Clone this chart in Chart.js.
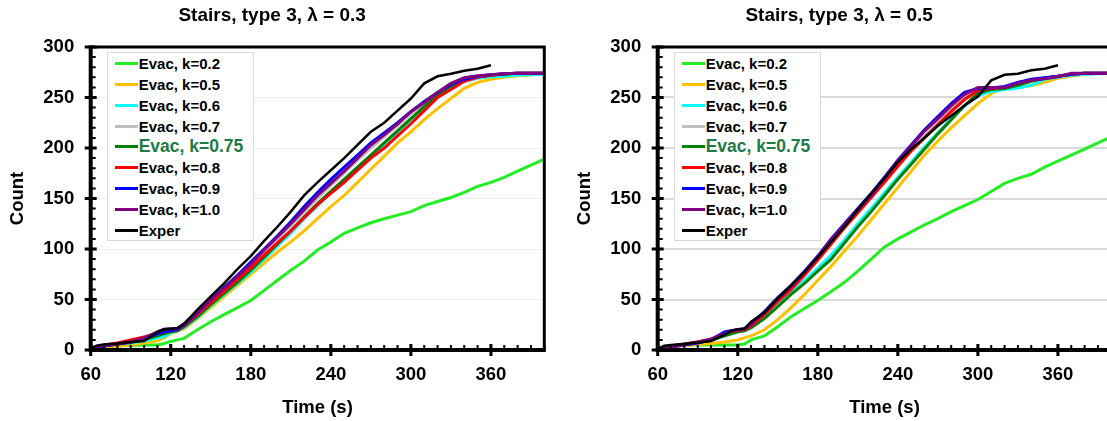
<!DOCTYPE html>
<html>
<head>
<meta charset="utf-8">
<title>Stairs, type 3</title>
<script src="https://cdn.jsdelivr.net/npm/chart.js@4.4.1/dist/chart.umd.min.js"></script>
<style>
    body { margin: 0; background: #fff; overflow: hidden; width: 1107px; height: 421px; position: relative; }
    .panel { position: absolute; top: 0; width: 555px; height: 421px; }
    .legend {
        position: absolute; width: 145px; border: 1px solid #d9d9d9; background: #fff;
        font-family: "Liberation Sans", Arial, sans-serif; font-weight: bold;
    }
    .legend .row { height: 20.8px; display: flex; align-items: center; font-size: 15px; color: #000; white-space: nowrap; }
    .legend .row.big { font-size: 17.5px; color: #1e7b45; }
    .legend .swatch { width: 23px; height: 3px; margin-left: 7px; margin-right: 1px; flex: none; }
</style>
</head>
<body>
<div class="panel" style="left:0"><canvas id="chart1" width="555" height="421"></canvas><div class="legend" id="legend1"></div></div>
<div class="panel" style="left:567px"><canvas id="chart2" width="555" height="421"></canvas><div class="legend" id="legend2"></div></div>

<script>
// time axis (s) shared by all curves
const time = [60, 65, 70, 80, 90, 100, 110, 115, 120, 125, 130, 140, 150, 160, 170, 180, 190, 200, 210, 220,
    230, 240, 250, 260, 270, 280, 290, 300, 310, 320, 330, 340, 350, 360, 370, 380, 390, 400];

const xTicks = [60, 120, 180, 240, 300, 360];
const yTicks = [0, 50, 100, 150, 200, 250, 300];

const seriesLabels = ["Evac, k=0.2", "Evac, k=0.5", "Evac, k=0.6", "Evac, k=0.7", "Evac, k=0.75",
    "Evac, k=0.8", "Evac, k=0.9", "Evac, k=1.0", "Exper"];
const seriesColors = ["#22ee22", "#ffc000", "#00ffff", "#bfbfbf", "#008000", "#ff0000", "#0000ff", "#800080", "#000000"];

// lambda = 0.3
const a_k02 = [0, 2, 3, 4, 4.5, 5, 5, 6.5, 8.5, 10, 11.5, 20, 28, 35, 42, 49, 59, 69, 79, 88, 99, 107, 115.5, 121, 126, 130, 133.5, 137, 143, 147, 151, 156, 162, 166, 171, 177, 183, 189];
const a_k05 = [0, 1, 3, 4, 5, 7, 9, 12, 16, 19, 21, 31, 42, 53, 64, 75, 86, 97, 107, 118, 130, 142, 153, 166, 179, 192, 205, 216, 228, 239, 249, 259, 265, 268, 270, 271.5, 272, null];
const a_k06 = [0, 2, 4, 6, 7, 9, 12, 13, 17, 19, 22, 32, 44, 55, 66, 77, 90, 103, 116, 130, 143, 156, 168, 180, 192, 204, 216, 228, 240, 251, 260, 266, 269, 270.5, 271, 272, 272.5, 273];
const a_k07 = [0, 2, 4, 6, 8, 11, 17, 19.5, 20, 21, 25, 36, 49, 60, 72, 84, 97, 110, 123, 137, 150, 163, 175, 188, 200, 211, 222, 234, 244, 254, 263, 268.5, 271, 272.5, 273.5, 274, 274, 274];
const a_k075 = [0, 2, 4, 6, 7.5, 10, 14, 16, 18, 19, 23, 33, 45, 56, 67, 79, 92, 105, 118, 132, 145, 157, 169, 181, 193, 205, 217, 229, 241, 252, 261, 267, 270.5, 272, 273, 274, 274, 274];
const a_k08 = [0, 3, 5, 7, 10, 13, 16, 18, 19, 20, 24, 35, 47, 58, 70, 81, 94, 106, 118, 131, 144, 155, 166, 178, 190, 200, 212, 224, 237, 250, 258, 266, 270, 272, 273.5, 274, 274, 274];
const a_k09 = [0, 1, 4, 6, 8, 11, 16, 18, 19, 20.5, 25, 37, 50, 62, 74, 87, 100, 113, 127, 142, 156, 169, 181, 193, 205, 215, 225, 236, 246, 255, 263, 268, 271, 272.5, 273.5, 274, 274, 274];
const a_k10 = [0, 3, 4.5, 6, 8, 12, 18, 20.5, 21, 21.5, 26, 38, 50, 61, 73, 85, 99, 112, 125, 139, 153, 165, 177, 190, 203, 213, 224, 236, 245, 255, 264, 269.5, 271.5, 272.5, 273.5, 274, 274, 274];
const a_exp = [2, 4.5, 5.5, 6.5, 8, 9, 18, 20.5, 21, 21.5, 26, 40, 53, 66, 80, 93, 108, 122, 137, 153, 166, 178, 190, 203, 216, 225, 237, 249, 264, 271, 273.5, 276.5, 278.5, 282, null, null, null, null];

// lambda = 0.5
const b_k02 = [0, 2, 3.5, 5, 5, 5, 5, 5, 5, 6, 10, 14, 23, 33, 41, 49, 58, 67, 78, 90, 102, 110, 117, 124, 130, 137, 143, 149, 157, 165, 170, 174, 181, 187, 193, 199, 205, 211];
const b_k05 = [0, 1, 3, 4.5, 5.5, 6.5, 8, 9, 10, 12, 14, 20, 30, 42, 55, 69, 83, 98, 113, 129, 145, 161, 177, 193, 207, 220, 232, 244, 254, 260, 260.5, 261.5, 265, 269, 271, 273, 274, 274];
const b_k06 = [0, 2, 4, 6, 7.5, 9.5, 14, 16, 18, 19, 22, 32, 45, 57, 69, 81, 94, 109, 125, 140, 156, 171, 186, 201, 215, 229, 242, 252, 256, 258, 259.5, 262, 268, 270, 272, 273, 273.5, 274];
const b_k07 = [0, 2, 4, 6, 8, 10.5, 16, 18.5, 19.5, 20.5, 25, 36, 49, 61, 75, 90, 106, 122, 137, 152, 168, 184, 199, 213, 226, 239, 250, 258, 259, 260, 264, 267, 269, 271, 273, 274, 274, 274];
const b_k075 = [0, 2, 4, 6, 7.5, 9.5, 14, 16, 18, 19, 22, 31, 43, 55, 66, 78, 90, 106, 122, 137, 153, 169, 184, 199, 214, 228, 242, 254, 258, 259, 262, 266, 269, 271, 273, 274, 274, 274];
const b_k08 = [0, 2, 4, 6, 8, 10.5, 16, 18.5, 19, 20, 24, 35, 48, 60, 74, 89, 105, 121, 136, 151, 166, 182, 197, 210, 223, 236, 248, 257, 259, 260, 265, 267, 269, 271, 273, 274, 274, 274];
const b_k09 = [0, 0.5, 3, 5, 7, 10, 18, 19, 20, 21, 26, 38, 52, 64, 78, 93, 110, 125, 140, 155, 171, 188, 203, 218, 231, 244, 255, 259, 259.5, 261, 265, 268, 269.5, 271, 273, 274, 274, 274];
const b_k10 = [0, 1.5, 3, 5.5, 8, 11, 16, 19, 20, 21, 26, 37, 51, 63, 77, 92, 109, 124, 139, 153, 170, 187, 202, 217, 229, 242, 253, 260, 260, 260, 264, 267, 268.5, 270.5, 274, 274, 274, 274];
const b_exp = [1, 4.3, 5, 6, 7.5, 9, 15, 19, 20.5, 21, 28, 37, 51, 64, 77, 92, 107, 122, 139, 155, 170, 186, 199, 210, 222, 232, 242, 251, 267, 272.5, 273.5, 277, 278.5, 282, null, null, null, null];

const minorStep = 10;
const fontFamily = '"Liberation Sans", Arial, sans-serif';
Chart.defaults.font.family = fontFamily;
Chart.defaults.color = "#000";

// black frame, thick axes and tick marks like the excel original
const framePlugin = {
    id: "frame",
    afterDatasetsDraw(chart) {
        const { ctx, chartArea: a, scales } = chart;
        const x = scales.x;
        const y = scales.y;
        ctx.save();
        ctx.strokeStyle = "#000";
        ctx.lineWidth = 3;
        ctx.beginPath();
        ctx.moveTo(a.left, a.top);
        ctx.lineTo(a.right, a.top);
        ctx.lineTo(a.right, a.bottom);
        ctx.stroke();

        ctx.lineWidth = 4;
        ctx.beginPath();
        ctx.moveTo(a.left, a.top - 1.5);
        ctx.lineTo(a.left, a.bottom);
        ctx.lineTo(a.right + 1.5, a.bottom);
        ctx.stroke();

        // minor ticks
        ctx.lineWidth = 2;
        ctx.beginPath();
        for (let v = x.min; v <= x.max; v += minorStep) {
            const px = x.getPixelForValue(v);
            ctx.moveTo(px, a.bottom);
            ctx.lineTo(px, a.bottom - 5);
        }
        for (let v = y.min; v <= y.max; v += minorStep) {
            const py = y.getPixelForValue(v);
            ctx.moveTo(a.left, py);
            ctx.lineTo(a.left + 5, py);
        }
        ctx.stroke();

        // major ticks
        ctx.lineWidth = 3;
        ctx.beginPath();
        xTicks.forEach((v) => {
            const px = x.getPixelForValue(v);
            ctx.moveTo(px, a.bottom - 6);
            ctx.lineTo(px, a.bottom + 6);
        });
        yTicks.forEach((v) => {
            const py = y.getPixelForValue(v);
            ctx.moveTo(a.left - 6, py);
            ctx.lineTo(a.left + 6, py);
        });
        ctx.stroke();
        ctx.restore();
    },
};

function makeChart(canvasId, legendId, titleText, series, gridColor, gridWidth) {
    const datasets = series.map((vals, i) => ({
        label: seriesLabels[i],
        data: time.map((t, j) => ({ x: t, y: vals[j] })),
        borderColor: seriesColors[i],
        backgroundColor: seriesColors[i],
        borderWidth: i === 8 ? 2.5 : 3,
        pointRadius: 0,
        tension: 0,
        order: series.length - i,
    }));

    const chart = new Chart(document.getElementById(canvasId), {
        type: "line",
        data: { datasets: datasets },
        options: {
            responsive: false,
            animation: false,
            devicePixelRatio: 1,
            layout: { padding: { left: 0, right: 10.7, top: 0, bottom: 0 } },
            plugins: {
                legend: { display: false },
                tooltip: { enabled: false },
                title: {
                    display: true,
                    text: titleText,
                    color: "#000",
                    font: { size: 19, weight: "bold" },
                    padding: { top: 4.2, bottom: 20 },
                },
            },
            scales: {
                x: {
                    type: "linear",
                    min: 60,
                    max: 400,
                    afterBuildTicks: (s) => { s.ticks = xTicks.map((v) => ({ value: v })); },
                    afterFit: (s) => { s.height = 71; },
                    grid: { display: false, drawTicks: false },
                    border: { display: false },
                    ticks: { font: { size: 18.5, weight: "bold" }, padding: 14, maxRotation: 0, autoSkip: false },
                    title: {
                        display: true,
                        text: "Time (s)",
                        font: { size: 18.5, weight: "bold" },
                        padding: { top: 0, bottom: 2 },
                    },
                },
                y: {
                    min: 0,
                    max: 300,
                    afterBuildTicks: (s) => { s.ticks = yTicks.map((v) => ({ value: v })); },
                    afterFit: (s) => { s.width = 90.7; },
                    grid: { color: gridColor, lineWidth: gridWidth, drawTicks: false },
                    border: { display: false },
                    ticks: { font: { size: 18.5, weight: "bold" }, padding: 16.5 },
                    title: {
                        display: true,
                        text: "Count",
                        font: { size: 18.5, weight: "bold" },
                        padding: { top: 7, bottom: 0 },
                    },
                },
            },
        },
        plugins: [framePlugin],
    });

    // legend box inside the plot, top-left
    const legend = document.getElementById(legendId);
    legend.style.left = chart.chartArea.left + 16 + "px";
    legend.style.top = chart.chartArea.top + 5.3 + "px";
    seriesLabels.forEach((label, i) => {
        const row = document.createElement("div");
        row.className = "row" + (label === "Evac, k=0.75" ? " big" : "");
        const sw = document.createElement("span");
        sw.className = "swatch";
        sw.style.background = seriesColors[i];
        const txt = document.createElement("span");
        txt.textContent = label;
        row.appendChild(sw);
        row.appendChild(txt);
        legend.appendChild(row);
    });
    return chart;
}

makeChart("chart1", "legend1", "Stairs, type 3, \u03bb = 0.3",
    [a_k02, a_k05, a_k06, a_k07, a_k075, a_k08, a_k09, a_k10, a_exp], "#efefef", 1);
makeChart("chart2", "legend2", "Stairs, type 3, \u03bb = 0.5",
    [b_k02, b_k05, b_k06, b_k07, b_k075, b_k08, b_k09, b_k10, b_exp], "#d9d9d9", 2);
</script>
</body>
</html>
